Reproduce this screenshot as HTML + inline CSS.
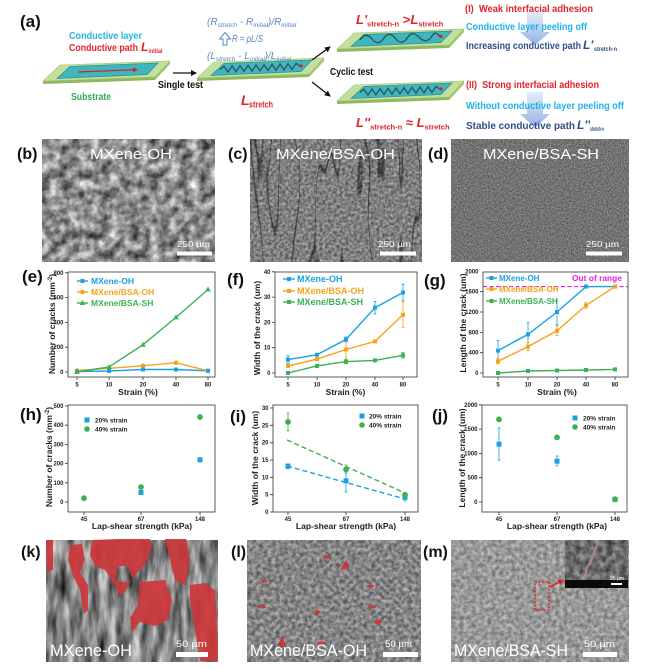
<!DOCTYPE html>
<html><head><meta charset="utf-8">
<style>
html,body{margin:0;padding:0;background:#fff;width:660px;height:670px;overflow:hidden}
svg{display:block}
text{font-family:"Liberation Sans","DejaVu Sans",sans-serif}
</style></head><body>
<svg xmlns="http://www.w3.org/2000/svg" xmlns:xlink="http://www.w3.org/1999/xlink" width="660" height="670" viewBox="0 0 660 670">
<defs>
<marker id="ah" markerWidth="6" markerHeight="6" refX="5" refY="3" orient="auto" markerUnits="userSpaceOnUse"><path d="M0,0 L6,3 L0,6 Z" fill="#111"/></marker>
<marker id="ahr" markerWidth="5" markerHeight="5" refX="4" refY="2.5" orient="auto" markerUnits="userSpaceOnUse"><path d="M0,0 L5,2.5 L0,5 Z" fill="#d9232a"/></marker>
<marker id="ahr2" markerWidth="6" markerHeight="6" refX="5" refY="3" orient="auto" markerUnits="userSpaceOnUse"><path d="M0,0 L6,3 L0,6 Z" fill="#e02020"/></marker>
<linearGradient id="bg1" x1="0" y1="0" x2="0" y2="1"><stop offset="0" stop-color="#dbe6f8"/><stop offset="1" stop-color="#6f98dc"/></linearGradient>
<filter id="fB" x="0" y="0" width="1" height="1" color-interpolation-filters="sRGB">
<feTurbulence type="fractalNoise" baseFrequency="0.1" numOctaves="3" seed="4"/>
<feColorMatrix type="matrix" values="1.1 0 0 0 0  1.1 0 0 0 0  1.1 0 0 0 0  0 0 0 0 1"/>
</filter>
<filter id="fC" x="0" y="0" width="1" height="1" color-interpolation-filters="sRGB">
<feTurbulence type="fractalNoise" baseFrequency="0.05 0.006" numOctaves="2" seed="11" result="t"/>
<feColorMatrix in="t" type="matrix" values="1 0 0 0 0  1 0 0 0 0  1 0 0 0 0  0 0 0 0 1" result="tg"/>
<feComponentTransfer in="tg" result="l">
<feFuncR type="table" tableValues="1 1 1 1 1 1 1 1 1 1 1 1 1 1 1 1 1 1 1 1 1 1 1 1 0.4 1 1 1 1 1 1 1 1 1 1 1 1 1 1 1 1 1 1 1 1 1 1 1 1"/>
<feFuncG type="table" tableValues="1 1 1 1 1 1 1 1 1 1 1 1 1 1 1 1 1 1 1 1 1 1 1 1 0.4 1 1 1 1 1 1 1 1 1 1 1 1 1 1 1 1 1 1 1 1 1 1 1 1"/>
<feFuncB type="table" tableValues="1 1 1 1 1 1 1 1 1 1 1 1 1 1 1 1 1 1 1 1 1 1 1 1 0.4 1 1 1 1 1 1 1 1 1 1 1 1 1 1 1 1 1 1 1 1 1 1 1 1"/>
</feComponentTransfer>
<feTurbulence type="fractalNoise" baseFrequency="0.35" numOctaves="2" seed="2" result="f"/>
<feColorMatrix in="f" type="matrix" values="0.6 0 0 0 0.2  0.6 0 0 0 0.2  0.6 0 0 0 0.2  0 0 0 0 1" result="base"/>
<feComposite in="base" in2="l" operator="arithmetic" k1="1" k2="0" k3="0" k4="0"/>
</filter>
<filter id="fD" x="0" y="0" width="1" height="1" color-interpolation-filters="sRGB">
<feTurbulence type="fractalNoise" baseFrequency="0.7" numOctaves="2" seed="6"/>
<feColorMatrix type="matrix" values="0.5 0 0 0 0.2  0.5 0 0 0 0.2  0.5 0 0 0 0.2  0 0 0 0 1"/>
</filter>
<filter id="fK" x="0" y="0" width="1" height="1" color-interpolation-filters="sRGB">
<feTurbulence type="fractalNoise" baseFrequency="0.12 0.03" numOctaves="3" seed="9"/>
<feColorMatrix type="matrix" values="1.0 0 0 0 0.02  1.0 0 0 0 0.02  1.0 0 0 0 0.02  0 0 0 0 1"/>
</filter>
<filter id="fL" x="0" y="0" width="1" height="1" color-interpolation-filters="sRGB">
<feTurbulence type="fractalNoise" baseFrequency="0.25" numOctaves="3" seed="5"/>
<feColorMatrix type="matrix" values="0.6 0 0 0 0.22  0.6 0 0 0 0.22  0.6 0 0 0 0.22  0 0 0 0 1"/>
</filter>
<filter id="fM" x="0" y="0" width="1" height="1" color-interpolation-filters="sRGB">
<feTurbulence type="fractalNoise" baseFrequency="0.25" numOctaves="3" seed="8"/>
<feColorMatrix type="matrix" values="0.5 0 0 0 0.35  0.5 0 0 0 0.35  0.5 0 0 0 0.35  0 0 0 0 1"/>
</filter>
<filter id="fI" x="0" y="0" width="1" height="1" color-interpolation-filters="sRGB">
<feTurbulence type="fractalNoise" baseFrequency="0.15" numOctaves="3" seed="12"/>
<feColorMatrix type="matrix" values="0.6 0 0 0 0.12  0.6 0 0 0 0.12  0.6 0 0 0 0.12  0 0 0 0 1"/>
</filter>
<g id="slab">
 <polygon points="43,81 155,77 155,80 43,84" fill="#8fb862"/>
 <polygon points="155,77 170,61 170,64 155,80" fill="#9cc46c"/>
 <polygon points="60,65 170,61 155,77 43,81" fill="#c4df9c" stroke="#9fc571" stroke-width="0.6"/>
 <polygon points="70,66.5 158,63 147,74.5 57,78.5" fill="#3fb6bd" stroke="#2a8c95" stroke-width="0.7"/>
</g>
<path id="zz" d="M66,72.4 L70,69.3 L74,75.1 L78,68.9 L82,74.8 L86,68.6 L90,74.5 L94,68.3 L98,74.1 L102,68 L106,73.8 L110,67.7 L114,73.5 L118,67.3 L122,73.2 L126,67 L130,72.9 L134,66.7 L138,72.5 L142,66.4 L146,69.2" fill="none" stroke="#2f5665" stroke-width="1.4"/>
</defs>

<!-- ===== (a) ===== -->
<text x="20" y="27" font-size="17" font-weight="bold" fill="#111">(a)</text>
<use xlink:href="#slab"/>
<line x1="78" y1="72" x2="137" y2="69.6" stroke="#d9232a" stroke-width="1.3" marker-end="url(#ahr)"/>
<g transform="translate(154,-3)"><use xlink:href="#slab"/><use xlink:href="#zz"/><circle cx="147" cy="69" r="1.6" fill="#e02020"/></g>
<g transform="translate(294,-32)"><use xlink:href="#slab"/>
<path d="M66,72 C70,66 74,66 78,71 S86,76 90,70 S98,66 102,71 S110,75 114,69 S122,66 126,70 S134,74 138,68 S144,67 146,68.5" fill="none" stroke="#2f5665" stroke-width="1.4"/><circle cx="147" cy="68.5" r="1.6" fill="#e02020"/></g>
<g transform="translate(294,20)"><use xlink:href="#slab"/><use xlink:href="#zz"/><circle cx="147" cy="69" r="1.6" fill="#e02020"/></g>

<line x1="173" y1="73" x2="196" y2="73" stroke="#111" stroke-width="1.3" marker-end="url(#ah)"/>
<line x1="312" y1="60" x2="330" y2="47" stroke="#111" stroke-width="1.3" marker-end="url(#ah)"/>
<line x1="312" y1="82" x2="330" y2="96" stroke="#111" stroke-width="1.3" marker-end="url(#ah)"/>

<text x="69" y="39" font-size="10.5" font-weight="bold" fill="#1fb3e8" textLength="73" lengthAdjust="spacingAndGlyphs">Conductive layer</text>
<text x="69" y="51" font-size="10.5" font-weight="bold" fill="#e3232b" textLength="69" lengthAdjust="spacingAndGlyphs">Conductive path</text>
<text x="141" y="51" font-size="12" font-weight="bold" font-style="italic" fill="#e3232b">L</text>
<text x="148.5" y="53" font-size="6.5" font-weight="bold" fill="#e3232b" textLength="14" lengthAdjust="spacingAndGlyphs">initial</text>
<text x="71" y="100" font-size="10.5" font-weight="bold" fill="#35a853" textLength="40" lengthAdjust="spacingAndGlyphs">Substrate</text>
<text x="158" y="88" font-size="10.5" font-weight="bold" fill="#111" textLength="45" lengthAdjust="spacingAndGlyphs">Single test</text>
<text x="241" y="105" font-size="14" font-weight="bold" font-style="italic" fill="#e3232b">L</text>
<text x="249" y="107.5" font-size="9" font-weight="bold" fill="#e3232b" textLength="24" lengthAdjust="spacingAndGlyphs">stretch</text>

<text x="207" y="25" font-size="10" font-style="italic" fill="#5a86c4">(R<tspan font-size="6.5" dy="2">stretch</tspan><tspan dy="-2"> - R</tspan><tspan font-size="6.5" dy="2">initial</tspan><tspan dy="-2">)/R</tspan><tspan font-size="6.5" dy="2">initial</tspan></text>
<polygon points="223,45 223,39 219.5,39 225,32.5 230.5,39 227,39 227,45" fill="none" stroke="#5a86c4" stroke-width="1"/>
<text x="232" y="42" font-size="10" font-style="italic" fill="#5a86c4" textLength="31" lengthAdjust="spacingAndGlyphs">R = ρL/S</text>
<text x="207" y="59" font-size="10" font-style="italic" fill="#5a86c4">(L<tspan font-size="6.5" dy="2">stretch</tspan><tspan dy="-2"> - L</tspan><tspan font-size="6.5" dy="2">initial</tspan><tspan dy="-2">)/L</tspan><tspan font-size="6.5" dy="2">initial</tspan></text>

<text x="356" y="24" font-weight="bold" fill="#e3232b"><tspan font-size="13" font-style="italic">L'</tspan><tspan font-size="7.5" dy="2.5">stretch-n</tspan><tspan font-size="13" dy="-2.5"> &gt;</tspan><tspan font-size="13" font-style="italic">L</tspan><tspan font-size="7.5" dy="2.5">stretch</tspan></text>
<text x="330" y="75" font-size="10.5" font-weight="bold" fill="#111" textLength="43" lengthAdjust="spacingAndGlyphs">Cyclic test</text>
<text x="356" y="127" font-weight="bold" fill="#e3232b"><tspan font-size="13" font-style="italic">L''</tspan><tspan font-size="7.5" dy="2.5">stretch-n</tspan><tspan font-size="13" dy="-2.5"> ≈ </tspan><tspan font-size="13" font-style="italic">L</tspan><tspan font-size="7.5" dy="2.5">stretch</tspan></text>

<polygon points="527,12 543,12 543,32 550,32 535,45 520,32 527,32" fill="url(#bg1)" opacity="0.75"/>
<polygon points="527,92 543,92 543,114 550,114 535,128 520,114 527,114" fill="url(#bg1)" opacity="0.75"/>
<text x="465" y="12" font-size="10.5" font-weight="bold" fill="#e3232b" textLength="128" lengthAdjust="spacingAndGlyphs">(I)&#160; Weak interfacial adhesion</text>
<text x="466" y="30" font-size="10.5" font-weight="bold" fill="#1fb3e8" textLength="121" lengthAdjust="spacingAndGlyphs">Conductive layer peeling off</text>
<text x="466" y="49" font-size="10.5" font-weight="bold" fill="#2d4e8a" textLength="115" lengthAdjust="spacingAndGlyphs">Increasing conductive path</text>
<text x="583" y="49" font-size="12" font-weight="bold" font-style="italic" fill="#2d4e8a">L'</text>
<text x="594" y="51" font-size="6.5" font-weight="bold" fill="#2d4e8a" textLength="23" lengthAdjust="spacingAndGlyphs">stretch-n</text>
<text x="466" y="88" font-size="10.5" font-weight="bold" fill="#e3232b" textLength="133" lengthAdjust="spacingAndGlyphs">(II)&#160; Strong interfacial adhesion</text>
<text x="466" y="109" font-size="10.5" font-weight="bold" fill="#1fb3e8" textLength="158" lengthAdjust="spacingAndGlyphs">Without conductive layer peeling off</text>
<text x="466" y="129" font-size="10.5" font-weight="bold" fill="#2d4e8a" textLength="109" lengthAdjust="spacingAndGlyphs">Stable conductive path</text>
<text x="577" y="129" font-size="12" font-weight="bold" font-style="italic" fill="#2d4e8a">L''</text>
<text x="590" y="131" font-size="6.5" font-weight="bold" fill="#2d4e8a" textLength="14" lengthAdjust="spacingAndGlyphs">stretch-n</text>

<!-- ===== (b)-(d) ===== -->
<rect x="42" y="139" width="173" height="123" filter="url(#fB)"/>
<rect x="250" y="139" width="172" height="123" filter="url(#fC)"/>
<rect x="451" y="139" width="178" height="123" filter="url(#fD)"/>
<g font-size="16" font-weight="bold" fill="#111">
<text x="17" y="159">(b)</text><text x="228" y="159">(c)</text><text x="428" y="159">(d)</text>
</g>
<g fill="#fff" font-size="15">
<text x="90" y="159" textLength="82" lengthAdjust="spacingAndGlyphs">MXene-OH</text>
<text x="276" y="159" textLength="119" lengthAdjust="spacingAndGlyphs">MXene/BSA-OH</text>
<text x="483" y="159" textLength="116" lengthAdjust="spacingAndGlyphs">MXene/BSA-SH</text>
<text x="177" y="247" font-size="8" textLength="33" lengthAdjust="spacingAndGlyphs">250 µm</text>
<text x="378" y="247" font-size="8" textLength="33" lengthAdjust="spacingAndGlyphs">250 µm</text>
<text x="586" y="247" font-size="8" textLength="33" lengthAdjust="spacingAndGlyphs">250 µm</text>
<rect x="177" y="251.5" width="35" height="4"/>
<rect x="380" y="251.5" width="36" height="4"/>
<rect x="586" y="251.5" width="36" height="4"/>
</g>

<!-- ===== chart common labels ===== -->
<g font-size="17" font-weight="bold" fill="#111">
<text x="22" y="282">(e)</text><text x="227" y="285">(f)</text><text x="424" y="286">(g)</text>
<text x="20" y="420">(h)</text><text x="230" y="422">(i)</text><text x="432" y="421">(j)</text>
</g>

<g stroke="#333" stroke-width="0.8" fill="none">
<rect x="68" y="272" width="147" height="105"/>
<path d="M65 372H68M65 347.2H68M65 322.4H68M65 297.6H68M65 272.8H68M77 377V380M109 377V380M143 377V380M176 377V380M208 377V380"/>
<rect x="275" y="272" width="142" height="105"/>
<path d="M272 373H275M272 347.7H275M272 322.4H275M272 297.1H275M272 271.8H275M288 377V380M317 377V380M346 377V380M375 377V380M403 377V380"/>
<rect x="483" y="272" width="145" height="105"/>
<path d="M480 373H483M480 352.7H483M480 332.4H483M480 312H483M480 291.7H483M498 377V380M528 377V380M557 377V380M586 377V380M615 377V380"/>
<rect x="68" y="405" width="147" height="107"/>
<path d="M65 502H68M65 482.8H68M65 463.6H68M65 444.4H68M65 425.2H68M65 406H68M84 512V515M141 512V515M200 512V515"/>
<rect x="273" y="405" width="145" height="107"/>
<path d="M270 512H273M270 494.7H273M270 477.3H273M270 460H273M270 442.7H273M270 425.3H273M270 408H273M288 512V515M346 512V515M405 512V515"/>
<rect x="482" y="405" width="145" height="107"/>
<path d="M479 502H482M479 477.7H482M479 453.4H482M479 429.1H482M479 404.8H482M499 512V515M557 512V515M615 512V515"/>
</g>
<g font-size="6" font-weight="bold" fill="#222" text-anchor="end">
<text x="63.5" y="374">0</text><text x="63.5" y="349.2">200</text><text x="63.5" y="324.4">400</text><text x="63.5" y="299.6">600</text><text x="63.5" y="274.8">800</text>
<text x="270.5" y="375">0</text><text x="270.5" y="349.7">10</text><text x="270.5" y="324.4">20</text><text x="270.5" y="299.1">30</text><text x="270.5" y="273.8">40</text>
<text x="478.5" y="375">0</text><text x="478.5" y="354.7">400</text><text x="478.5" y="334.4">800</text><text x="478.5" y="314">1200</text><text x="478.5" y="293.7">1600</text><text x="478.5" y="273.4">2000</text>
<text x="63.5" y="504">0</text><text x="63.5" y="484.8">100</text><text x="63.5" y="465.6">200</text><text x="63.5" y="446.4">300</text><text x="63.5" y="427.2">400</text><text x="63.5" y="408">500</text>
<text x="268.5" y="514">0</text><text x="268.5" y="496.7">5</text><text x="268.5" y="479.3">10</text><text x="268.5" y="462">15</text><text x="268.5" y="444.7">20</text><text x="268.5" y="427.3">25</text><text x="268.5" y="410">30</text>
<text x="477.5" y="504">0</text><text x="477.5" y="479.7">500</text><text x="477.5" y="455.4">1000</text><text x="477.5" y="431.1">1500</text><text x="477.5" y="406.8">2000</text>
</g>
<g font-size="6" font-weight="bold" fill="#222" text-anchor="middle">
<text x="77" y="386.5">5</text><text x="109" y="386.5">10</text><text x="143" y="386.5">20</text><text x="176" y="386.5">40</text><text x="208" y="386.5">80</text>
<text x="288" y="386.5">5</text><text x="317" y="386.5">10</text><text x="346" y="386.5">20</text><text x="375" y="386.5">40</text><text x="403" y="386.5">80</text>
<text x="498" y="386.5">5</text><text x="528" y="386.5">10</text><text x="557" y="386.5">20</text><text x="586" y="386.5">40</text><text x="615" y="386.5">80</text>
<text x="84" y="521">45</text><text x="141" y="521">67</text><text x="200" y="521">148</text>
<text x="288" y="521">45</text><text x="346" y="521">67</text><text x="405" y="521">148</text>
<text x="499" y="521">45</text><text x="557" y="521">67</text><text x="615" y="521">148</text>
</g>
<g font-size="8.5" font-weight="bold" fill="#222" text-anchor="middle">
<text x="138" y="395">Strain (%)</text><text x="345.5" y="395">Strain (%)</text><text x="557" y="395">Strain (%)</text>
<text x="142" y="529">Lap-shear strength (kPa)</text><text x="346" y="529">Lap-shear strength (kPa)</text><text x="557" y="529">Lap-shear strength (kPa)</text>
<text transform="translate(55,324) rotate(-90)">Number of cracks (mm<tspan font-size="6" dy="-3">-2</tspan><tspan dy="3">)</tspan></text>
<text transform="translate(260,328) rotate(-90)">Width of the crack (um)</text>
<text transform="translate(466,323) rotate(-90)">Length of the crack (um)</text>
<text transform="translate(52,457) rotate(-90)">Number of cracks (mm<tspan font-size="6" dy="-3">-2</tspan><tspan dy="3">)</tspan></text>
<text transform="translate(258,458) rotate(-90)">Width of the crack (um)</text>
<text transform="translate(465,458) rotate(-90)">Length of the crack (um)</text>
</g>

<!-- e series -->
<polyline points="77,371.6 109,371 143,369.5 176,369.5 208,370.8" fill="none" stroke="#1ba1e2" stroke-width="1.4"/>
<polyline points="77,370.5 109,368.3 143,365.8 176,362.7 208,370.8" fill="none" stroke="#f7a21b" stroke-width="1.4"/>
<polyline points="77,372 109,367 143,344.7 176,317.4 208,289.5" fill="none" stroke="#3cb054" stroke-width="1.4"/>
<g fill="#f7a21b"><circle cx="77" cy="370.5" r="2.3"/><circle cx="109" cy="368.3" r="2.3"/><circle cx="143" cy="365.8" r="2.3"/><circle cx="176" cy="362.7" r="2.3"/><circle cx="208" cy="370.8" r="2.3"/></g>
<g fill="#1ba1e2"><rect x="75" y="369.6" width="4" height="4"/><rect x="107" y="369" width="4" height="4"/><rect x="141" y="367.5" width="4" height="4"/><rect x="174" y="367.5" width="4" height="4"/><rect x="206" y="368.8" width="4" height="4"/></g>
<g fill="#3cb054"><path d="M77 369l2.8 5h-5.6z"/><path d="M109 364l2.8 5h-5.6z"/><path d="M143 341.7l2.8 5h-5.6z"/><path d="M176 314.4l2.8 5h-5.6z"/><path d="M208 286.5l2.8 5h-5.6z"/></g>
<g font-size="8.5" font-weight="bold">
<line x1="77" y1="281" x2="88" y2="281" stroke="#1ba1e2" stroke-width="1.4"/><rect x="80.5" y="279" width="4" height="4" fill="#1ba1e2"/><text x="91" y="284" fill="#1ba1e2">MXene-OH</text>
<line x1="77" y1="292" x2="88" y2="292" stroke="#f7a21b" stroke-width="1.4"/><circle cx="82.5" cy="292" r="2.3" fill="#f7a21b"/><text x="91" y="295" fill="#f7a21b">MXene/BSA-OH</text>
<line x1="77" y1="303" x2="88" y2="303" stroke="#3cb054" stroke-width="1.4"/><path d="M82.5 300l2.8 5h-5.6z" fill="#3cb054"/><text x="91" y="306" fill="#3cb054">MXene/BSA-SH</text>
</g>

<!-- f series -->
<g stroke-width="0.8" fill="none">
<path stroke="#1ba1e2" d="M286.5 355.8H289.5M288 355.8V363.4M286.5 363.4H289.5M315.5 353.5H318.5M317 353.5V356.1M315.5 356.1H318.5M344.5 337H347.5M346 337V341.8M344.5 341.8H347.5M373.5 301.4H376.5M375 301.4V314M373.5 314H376.5M401.5 284.2H404.5M403 284.2V300.8M401.5 300.8H404.5"/>
<path stroke="#f7a21b" d="M344.5 341H347.5M346 341V358M344.5 358H347.5M401.5 302H404.5M403 302V327.5M401.5 327.5H404.5"/>
<path stroke="#3cb054" d="M344.5 359.5H347.5M346 359.5V363.7M344.5 363.7H347.5M401.5 352.5H404.5M403 352.5V358.1M401.5 358.1H404.5"/>
</g>
<polyline points="288,359.6 317,354.8 346,339.4 375,307.7 403,292.5" fill="none" stroke="#1ba1e2" stroke-width="1.4"/>
<polyline points="288,365.9 317,359.1 346,349.5 375,341.4 403,314.8" fill="none" stroke="#f7a21b" stroke-width="1.4"/>
<polyline points="288,373 317,365.9 346,361.6 375,360.4 403,355.3" fill="none" stroke="#3cb054" stroke-width="1.4"/>
<g fill="#1ba1e2"><rect x="286" y="357.6" width="4" height="4"/><rect x="315" y="352.8" width="4" height="4"/><rect x="344" y="337.4" width="4" height="4"/><rect x="373" y="305.7" width="4" height="4"/><rect x="401" y="290.5" width="4" height="4"/></g>
<g fill="#f7a21b"><rect x="286" y="363.9" width="4" height="4"/><rect x="315" y="357.1" width="4" height="4"/><rect x="344" y="347.5" width="4" height="4"/><rect x="373" y="339.4" width="4" height="4"/><rect x="401" y="312.8" width="4" height="4"/></g>
<g fill="#3cb054"><rect x="286" y="371" width="4" height="4"/><rect x="315" y="363.9" width="4" height="4"/><rect x="344" y="359.6" width="4" height="4"/><rect x="373" y="358.4" width="4" height="4"/><rect x="401" y="353.3" width="4" height="4"/></g>
<g font-size="9" font-weight="bold">
<line x1="283" y1="279" x2="295" y2="279" stroke="#1ba1e2" stroke-width="1.4"/><rect x="287" y="277" width="4" height="4" fill="#1ba1e2"/><text x="297" y="282.2" fill="#1ba1e2">MXene-OH</text>
<line x1="283" y1="291" x2="295" y2="291" stroke="#f7a21b" stroke-width="1.4"/><rect x="287" y="289" width="4" height="4" fill="#f7a21b"/><text x="297" y="294.2" fill="#f7a21b">MXene/BSA-OH</text>
<line x1="283" y1="302" x2="295" y2="302" stroke="#3cb054" stroke-width="1.4"/><rect x="287" y="300" width="4" height="4" fill="#3cb054"/><text x="297" y="305.2" fill="#3cb054">MXene/BSA-SH</text>
</g>

<!-- g series -->
<line x1="483" y1="286.6" x2="628" y2="286.6" stroke="#e61ee6" stroke-width="1.1" stroke-dasharray="4 2.5"/>
<g stroke-width="0.8" fill="none">
<path stroke="#1ba1e2" d="M496.5 340.5H499.5M498 340.5V360.7M496.5 360.7H499.5M526.5 322.7H529.5M528 322.7V346.1M526.5 346.1H529.5M555.5 300H558.5M557 300V325M555.5 325H558.5"/>
<path stroke="#f7a21b" d="M496.5 358.5H499.5M498 358.5V364M496.5 364H499.5M526.5 342.5H529.5M528 342.5V350.7M526.5 350.7H529.5M555.5 326H558.5M557 326V335.5M555.5 335.5H558.5M584.5 302.4H587.5M586 302.4V308.4M584.5 308.4H587.5"/>
</g>
<polyline points="498,350.6 528,334.4 557,312 586,286.6 615,286.6" fill="none" stroke="#1ba1e2" stroke-width="1.4"/>
<polyline points="498,361.3 528,346.6 557,330.8 586,305.4 615,286.6" fill="none" stroke="#f7a21b" stroke-width="1.4"/>
<polyline points="498,373 528,371 557,370.5 586,370 615,369.4" fill="none" stroke="#3cb054" stroke-width="1.4"/>
<g fill="#1ba1e2"><rect x="496" y="348.6" width="4" height="4"/><rect x="526" y="332.4" width="4" height="4"/><rect x="555" y="310" width="4" height="4"/><rect x="584" y="284.6" width="4" height="4"/></g>
<g fill="#f7a21b"><rect x="496" y="359.3" width="4" height="4"/><rect x="526" y="344.6" width="4" height="4"/><rect x="555" y="328.8" width="4" height="4"/><rect x="584" y="303.4" width="4" height="4"/><rect x="613" y="284.6" width="4" height="4"/></g>
<g fill="#3cb054"><rect x="496" y="371" width="4" height="4"/><rect x="526" y="369" width="4" height="4"/><rect x="555" y="368.5" width="4" height="4"/><rect x="584" y="368" width="4" height="4"/><rect x="613" y="367.4" width="4" height="4"/></g>
<g font-size="8" font-weight="bold">
<line x1="486" y1="278" x2="497" y2="278" stroke="#1ba1e2" stroke-width="1.4"/><rect x="489.5" y="276" width="4" height="4" fill="#1ba1e2"/><text x="499" y="281" fill="#1ba1e2">MXene-OH</text>
<line x1="486" y1="289" x2="497" y2="289" stroke="#f7a21b" stroke-width="1.4"/><rect x="489.5" y="287" width="4" height="4" fill="#f7a21b"/><text x="499" y="292" fill="#f7a21b">MXene/BSA-OH</text>
<line x1="486" y1="301" x2="497" y2="301" stroke="#3cb054" stroke-width="1.4"/><rect x="489.5" y="299" width="4" height="4" fill="#3cb054"/><text x="499" y="304" fill="#3cb054">MXene/BSA-SH</text>
<text x="572" y="281" fill="#e61ee6" font-size="8.5" textLength="50" lengthAdjust="spacingAndGlyphs">Out of range</text>
</g>

<!-- h -->
<g fill="#1ba1e2"><rect x="138.5" y="489.9" width="5" height="5"/><rect x="197.5" y="457.3" width="5" height="5"/></g>
<g fill="#3cb054"><circle cx="84" cy="498.2" r="2.9"/><circle cx="141" cy="487" r="2.9"/><circle cx="200" cy="417" r="2.9"/></g>
<g font-size="6.5" font-weight="bold" fill="#222">
<rect x="84.5" y="417.5" width="5" height="5" fill="#1ba1e2"/><text x="95" y="422.5">20% strain</text>
<circle cx="87" cy="429" r="2.8" fill="#3cb054"/><text x="95" y="431.5">40% strain</text>
</g>

<!-- i -->
<line x1="287" y1="440" x2="405" y2="493" stroke="#3cb054" stroke-width="1.4" stroke-dasharray="5 3"/>
<line x1="287" y1="466" x2="405" y2="499" stroke="#1ba1e2" stroke-width="1.4" stroke-dasharray="5 3"/>
<g stroke-width="0.8" fill="none">
<path stroke="#1ba1e2" d="M286.5 463.8H289.5M288 463.8V468.6M286.5 468.6H289.5M344.5 469H347.5M346 469V492M344.5 492H347.5M403.5 494H406.5M405 494V501M403.5 501H406.5"/>
<path stroke="#3cb054" d="M286.5 413H289.5M288 413V431M286.5 431H289.5M344.5 465H347.5M346 465V473M344.5 473H347.5"/>
</g>
<g fill="#1ba1e2"><rect x="285.5" y="463.7" width="5" height="5"/><rect x="343.5" y="478.3" width="5" height="5"/><rect x="402.5" y="494.9" width="5" height="5"/></g>
<g fill="#3cb054"><circle cx="288" cy="421.9" r="2.9"/><circle cx="346" cy="469.4" r="2.9"/><circle cx="405" cy="494.7" r="2.9"/></g>
<g font-size="6.5" font-weight="bold" fill="#222">
<rect x="359.5" y="413.5" width="5" height="5" fill="#1ba1e2"/><text x="369" y="418.5">20% strain</text>
<circle cx="362" cy="425" r="2.8" fill="#3cb054"/><text x="369" y="427.5">40% strain</text>
</g>

<!-- j -->
<g stroke-width="0.8" fill="none">
<path stroke="#1ba1e2" d="M497.5 428H500.5M499 428V460M497.5 460H500.5M555.5 456H558.5M557 456V466M555.5 466H558.5"/>
</g>
<g fill="#1ba1e2"><rect x="496.5" y="441.7" width="5" height="5"/><rect x="554.5" y="458.7" width="5" height="5"/><rect x="612.5" y="497.1" width="5" height="5"/></g>
<g fill="#3cb054"><circle cx="499" cy="419.4" r="2.9"/><circle cx="557" cy="437.4" r="2.9"/><circle cx="615" cy="499.1" r="2.9"/></g>
<g font-size="6.5" font-weight="bold" fill="#222">
<rect x="572.5" y="415.5" width="5" height="5" fill="#1ba1e2"/><text x="583" y="420.5">20% strain</text>
<circle cx="575" cy="427" r="2.8" fill="#3cb054"/><text x="583" y="429.5">40% strain</text>
</g>

<!-- ===== (k)-(m) ===== -->
<rect x="46" y="540" width="172" height="122" filter="url(#fK)"/>
<g fill="#cc383b" opacity="0.92">
<polygon points="70,545 82,544 85,560 80,572 88,585 88,610 84,614 80,590 74,578 68,560"/>
<polygon points="92,540 118,539 150,539 152,548 145,565 132,578 128,566 118,566 116,580 120,596 112,580 105,570 95,566 90,555"/>
<polygon points="116,580 128,583 132,578 125,592 120,596"/>
<polygon points="140,582 165,580 172,600 168,620 155,626 140,622 132,632 130,618 138,605"/>
<polygon points="165,539 186,539 190,560 185,585 175,580 170,560"/>
<polygon points="190,585 205,583 215,590 218,640 218,661 200,661 195,630 190,600"/>
<polygon points="46,540 53,540 53,570 47,572"/>
</g>
<rect x="247" y="540" width="174" height="122" filter="url(#fL)"/>
<g fill="#c8383c">
<ellipse cx="327" cy="557" rx="4" ry="1.6"/>
<polygon points="340,570 346,560 350,567"/>
<ellipse cx="264" cy="581" rx="3" ry="1.6"/>
<ellipse cx="371" cy="586" rx="3" ry="1.5"/>
<ellipse cx="262" cy="607" rx="4" ry="1.5"/>
<ellipse cx="317" cy="612" rx="3" ry="1.8"/>
<ellipse cx="372" cy="607" rx="3.5" ry="1.5"/>
<ellipse cx="378" cy="622" rx="4" ry="2"/>
<polygon points="277,645 283,636 286,647"/>
<ellipse cx="321" cy="643" rx="4" ry="1.6"/>
</g>
<rect x="451" y="540" width="178" height="122" filter="url(#fM)"/>
<rect x="565" y="540" width="63" height="48" filter="url(#fI)"/>
<path d="M598,540 L596,548 L594,553 L591,560 L588,566 L586,572 L584,580" fill="none" stroke="#d8b0b0" stroke-width="1.6"/>
<path d="M598,540 L596,548 L594,553 L591,560 L588,566 L586,572 L584,580" fill="none" stroke="#b04848" stroke-width="0.6"/>
<rect x="565" y="580" width="63" height="8" fill="#0a0a0a"/>
<rect x="611" y="583" width="11" height="2" fill="#fff"/>
<text x="610" y="580" font-size="5" fill="#fff">25 µm</text>
<rect x="535" y="582" width="14" height="28" fill="none" stroke="#e02020" stroke-width="1.3" stroke-dasharray="2 1.5"/>
<line x1="550" y1="587" x2="563" y2="580" stroke="#e02020" stroke-width="1.3" marker-end="url(#ahr2)"/>
<g font-size="16" font-weight="bold" fill="#111">
<text x="21" y="557">(k)</text><text x="231" y="557">(l)</text><text x="423" y="557">(m)</text>
</g>
<g fill="#fff">
<text x="50" y="656" font-size="17" textLength="82" lengthAdjust="spacingAndGlyphs">MXene-OH</text>
<text x="250" y="656" font-size="17" textLength="117" lengthAdjust="spacingAndGlyphs">MXene/BSA-OH</text>
<text x="454" y="656" font-size="17" textLength="114" lengthAdjust="spacingAndGlyphs">MXene/BSA-SH</text>
<text x="176" y="647" font-size="9" textLength="31" lengthAdjust="spacingAndGlyphs">50 µm</text>
<text x="385" y="647" font-size="9" textLength="27" lengthAdjust="spacingAndGlyphs">50 µm</text>
<text x="584" y="647" font-size="9" textLength="31" lengthAdjust="spacingAndGlyphs">50 µm</text>
<rect x="176" y="652" width="32" height="5"/>
<rect x="383" y="652" width="35" height="5"/>
<rect x="583" y="652" width="34" height="5"/>
</g>
</svg>
</body></html>
